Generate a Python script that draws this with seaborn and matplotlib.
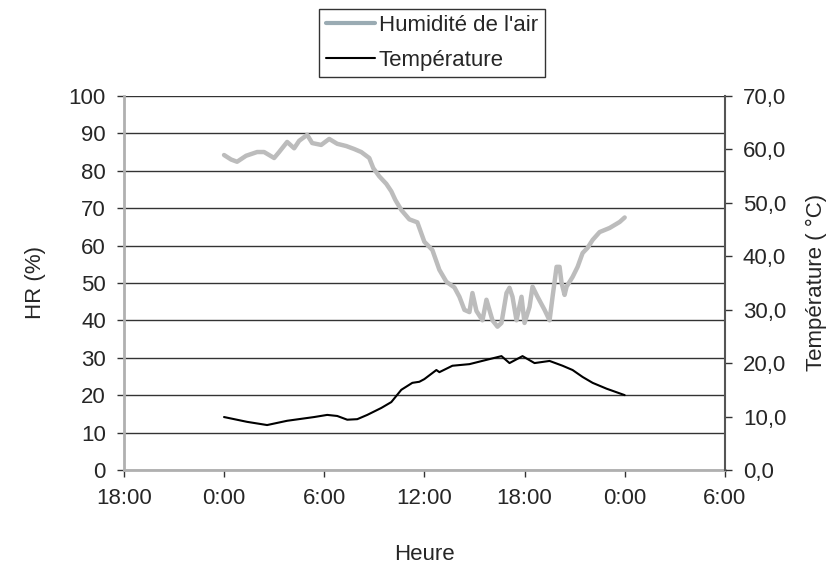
import pandas as pd
import seaborn as sns
import matplotlib.pyplot as plt
from matplotlib.lines import Line2D

# Hours counted from the first midnight (0 = 0:00, 24 = next 0:00)
hum_x = [225, 232, 238, 247, 258, 265, 275, 280, 288, 295, 300, 308, 313, 322, 330, 338,
         347, 355, 362, 370, 374, 380, 387, 392, 396, 402, 410, 418, 425, 433, 440, 447,
         455, 460, 465, 470, 473, 477, 483, 487, 493, 498, 502, 507, 510, 513, 517, 522,
         525, 530, 533, 538, 545, 550, 553, 557, 560, 562, 565, 567, 573, 578, 583, 588,
         593, 600, 610, 620, 625]
humidity = [84.2, 83.0, 82.4, 84.0, 85.0, 85.0, 83.4, 85.0, 87.7, 86.0, 88.0, 89.6, 87.4,
            86.9, 88.5, 87.2, 86.6, 85.8, 85.0, 83.4, 80.7, 78.5, 76.5, 74.5, 72.2, 69.5,
            67.0, 66.2, 61.0, 58.8, 53.5, 50.3, 48.8, 46.3, 42.8, 42.2, 47.3, 42.5, 40.0,
            45.5, 40.0, 38.3, 39.3, 47.3, 48.7, 46.3, 40.0, 46.3, 39.3, 43.6, 49.0, 46.3,
            42.8, 40.0, 46.3, 54.3, 54.3, 50.0, 46.8, 49.0, 51.6, 54.3, 58.0, 59.4, 61.5,
            63.6, 64.7, 66.3, 67.5]

temp_x = [225, 248, 268, 288, 315, 328, 338, 348, 358, 368, 382, 392, 402, 413, 420, 425,
          437, 440, 453, 470, 487, 502, 510, 523, 535, 550, 563, 573, 583, 593, 607, 622, 625]
temperature = [9.9, 9.0, 8.4, 9.2, 9.9, 10.3, 10.1, 9.4, 9.5, 10.3, 11.6, 12.7, 15.0, 16.3,
               16.5, 17.0, 18.7, 18.3, 19.5, 19.8, 20.6, 21.3, 20.0, 21.3, 20.0, 20.4, 19.5,
               18.7, 17.4, 16.3, 15.2, 14.2, 14.0]

hum_hours = [(p - 225) * 0.06 for p in hum_x]
temp_hours = [(p - 225) * 0.06 for p in temp_x]

tick_hours = [-6, 0, 6, 12, 18, 24, 30]
tick_labels = ['18:00', '0:00', '6:00', '12:00', '18:00', '0:00', '6:00']

df_h = pd.DataFrame({'heure': hum_hours, 'hr': humidity})
df_t = pd.DataFrame({'heure': temp_hours, 'temp': temperature})

sns.set_style('white')
plt.rcParams['font.family'] = ['Liberation Sans', 'DejaVu Sans']
fs = 16

fig = plt.figure(figsize=(8.37, 5.71), dpi=100)
ax = fig.add_axes([0.148, 0.177, 0.718, 0.655])
ax2 = ax.twinx()

sns.lineplot(data=df_h, x='heure', y='hr', ax=ax, color='#bcbcbc', linewidth=3.2)
sns.lineplot(data=df_t, x='heure', y='temp', ax=ax2, color='black', linewidth=1.5)

ax.set_xlim(-6, 30)
ax.set_ylim(0, 100)
ax2.set_ylim(0, 70)
ax.set_yticks(range(0, 101, 10))
ax2.set_yticks(range(0, 71, 10))
ax2.set_yticklabels([f'{v},0' for v in range(0, 71, 10)])
ax.set_xticks(tick_hours)
ax.set_xticklabels(tick_labels)

ax.yaxis.grid(True, color='#333333', linewidth=1)
ax.set_axisbelow(True)

for s in ['top', 'right']:
    ax.spines[s].set_visible(False)
for s in ['top', 'left', 'bottom']:
    ax2.spines[s].set_visible(False)
ax.spines['left'].set_color('#b0b0b0')
ax.spines['bottom'].set_color('#b0b0b0')
ax.spines['left'].set_linewidth(2)
ax.spines['bottom'].set_linewidth(2)
ax2.spines['right'].set_color('#555555')
ax2.spines['right'].set_linewidth(1.5)

ax.tick_params(axis='both', direction='out', length=5, width=1, color='#333333',
               left=True, bottom=True, labelsize=fs, pad=8)
ax2.tick_params(axis='y', direction='out', length=5, width=1, color='#333333',
                right=True, labelsize=fs, pad=8)

ax.set_xlabel('Heure', fontsize=fs, labelpad=25)
ax.set_ylabel('HR (%)', fontsize=fs, labelpad=16)
ax2.set_ylabel('Température ( °C)', fontsize=fs, labelpad=14)

handles = [Line2D([], [], color='#9aabb3', linewidth=3),
           Line2D([], [], color='black', linewidth=1.5)]
leg = fig.legend(handles, ["Humidité de l'air", 'Température'], loc='upper center',
                 bbox_to_anchor=(0.516, 0.985), frameon=True, fancybox=False,
                 fontsize=fs, handlelength=2.2, handletextpad=0.2,
                 borderpad=0.3, labelspacing=0.6, borderaxespad=0)
leg.get_frame().set_edgecolor('black')
leg.get_frame().set_linewidth(1)

fig.savefig('out.png', dpi=100)
